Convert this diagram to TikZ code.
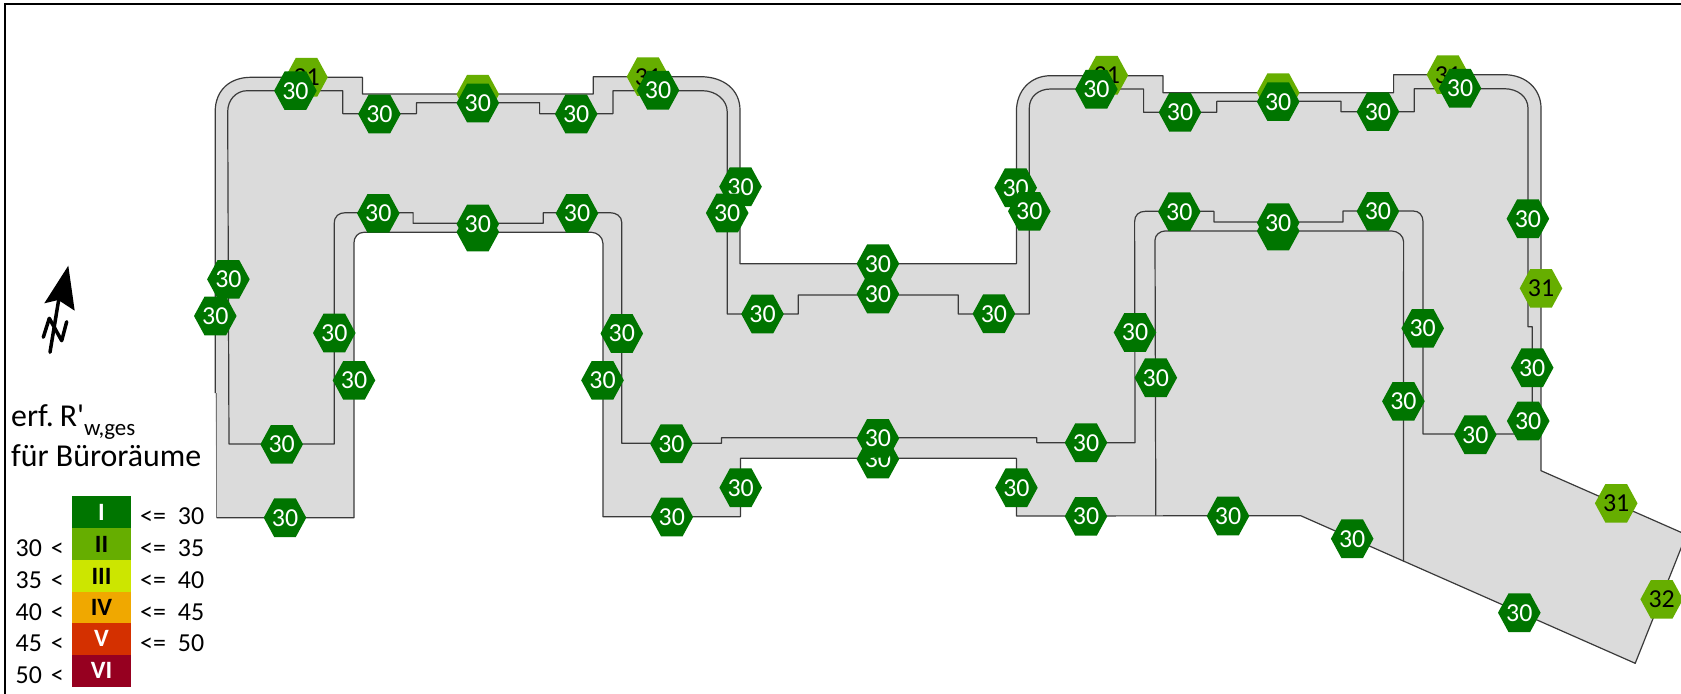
\documentclass[tikz,border=0pt]{standalone}
\usepackage{fontspec}
\setmainfont{Carlito}
\newfontfamily\rawfont{Carlito}
\definecolor{hexdark}{HTML}{007500}
\definecolor{hexlight}{HTML}{66AE00}
\definecolor{floorgray}{HTML}{DBDBDB}
\definecolor{wall}{HTML}{3A3A3A}
\definecolor{lI}{HTML}{007500}
\definecolor{lII}{HTML}{66AE00}
\definecolor{lIII}{HTML}{CCE600}
\definecolor{lIV}{HTML}{F0A800}
\definecolor{lV}{HTML}{D43000}
\definecolor{lVI}{HTML}{960020}
\newcounter{hexno}
\tikzset{
  wallline/.style={draw=wall,line width=1.2bp,line join=round},
  hexlabel/.style={inner sep=0pt,font=\fontsize{26}{26}\selectfont},
  leglabel/.style={inner sep=0pt,font=\fontsize{26}{26}\selectfont},
  legbox/.style={inner sep=0pt,minimum width=59bp,minimum height=32bp,text height=16bp,text depth=0pt,font=\fontsize{25}{25}\selectfont\bfseries},
}
% centre x, centre y, fill, text colour, text
\newcommand{\hexa}[5]{%
  \stepcounter{hexno}%
  \fill[#3] (#1-21.3,#2) -- (#1-10.8,#2-19.3) -- (#1+10.8,#2-19.3) -- (#1+21.3,#2) -- (#1+10.8,#2+19.3) -- (#1-10.8,#2+19.3) -- cycle;
  \node[hexlabel,text=#4] (h\arabic{hexno}) at (#1,#2) {#5};
}
\newcommand{\hd}[2]{\hexa{#1}{#2}{hexdark}{white}{30}}
\newcommand{\hl}[3]{\hexa{#1}{#2}{hexlight}{black}{#3}}
\begin{document}
\begin{tikzpicture}[x=1bp,y=-1bp]
\useasboundingbox (0,0) rectangle (1681,694);
\clip (0,0) rectangle (1681,694);
\fill[white] (0,0) rectangle (1681,694);
% frame
\draw[black,line width=2.3bp] (5,694) -- (5,4);
\draw[black,line width=1.5bp] (4,4) -- (1681,4);
% floor plan outer outline
\fill[floorgray] (216.5,517.7) -- (215.2,393) -- (215.2,111.7)
  .. controls (215.2,90) and (230,77.3) .. (251,77.3)
  -- (362.4,77.3) -- (362.4,94) -- (593.3,94) -- (593.3,76.7) -- (700.5,76.7)
  .. controls (724,76.7) and (740,90) .. (740,110)
  -- (740,263.7) -- (1016.4,263.7) -- (1016.4,111.7)
  .. controls (1016.4,90) and (1031,75.7) .. (1050.7,75.7)
  -- (1163,75.7) -- (1163,92.7) -- (1393.6,92.7) -- (1393.6,74.7) -- (1504,74.7)
  .. controls (1527,74.7) and (1541,90) .. (1541,108)
  -- (1541,470.7) -- (1686.4,534.7) -- (1635.2,663.3) -- (1300.7,515.7)
  -- (1016.4,516) -- (1016.4,458.3) -- (740.4,458.3) -- (740.4,516.7) -- (602.9,516.7)
  -- (602.9,243.3) .. controls (602.9,237) and (597,232.3) .. (591.4,232.3)
  -- (363.9,232.3) .. controls (358,232.3) and (353.9,237) .. (353.9,243.3)
  -- (354,517.7) -- cycle;
\draw[wallline] (215.2,393) -- (215.2,111.7)
  .. controls (215.2,90) and (230,77.3) .. (251,77.3)
  -- (362.4,77.3) -- (362.4,94) -- (593.3,94) -- (593.3,76.7) -- (700.5,76.7)
  .. controls (724,76.7) and (740,90) .. (740,110)
  -- (740,263.7) -- (1016.4,263.7) -- (1016.4,111.7)
  .. controls (1016.4,90) and (1031,75.7) .. (1050.7,75.7)
  -- (1163,75.7) -- (1163,92.7) -- (1393.6,92.7) -- (1393.6,74.7) -- (1504,74.7)
  .. controls (1527,74.7) and (1541,90) .. (1541,108)
  -- (1541,470.7) -- (1686.4,534.7) -- (1635.2,663.3) -- (1300.7,515.7)
  -- (1016.4,516) -- (1016.4,458.3) -- (740.4,458.3) -- (740.4,516.7) -- (602.9,516.7)
  -- (602.9,243.3) .. controls (602.9,237) and (597,232.3) .. (591.4,232.3)
  -- (363.9,232.3) .. controls (358,232.3) and (353.9,237) .. (353.9,243.3)
  -- (354,517.7) -- (216.5,517.7);
\draw[draw=wall!70,line width=0.8bp] (216.5,517.7) -- (216.5,393);
% inner line
\draw[wallline] (229,444) -- (227.7,111.7)
  .. controls (227.7,100) and (236,90.7) .. (247.3,90.7)
  -- (342.8,90.7) -- (342.8,113.7) -- (416.4,113.7) -- (416.4,102.7) -- (539.6,102.7)
  -- (539.6,113.7) -- (612.9,113.7) -- (612.9,90.7) -- (702.4,90.7)
  .. controls (716,90.7) and (727.2,100) .. (727.2,111.7)
  -- (727.2,314) -- (798.2,314) -- (798.2,295) -- (958.2,295) -- (958.2,314)
  -- (1029.3,314) -- (1029.3,108)
  .. controls (1029.3,97) and (1038,89) .. (1050.7,89)
  -- (1143.6,89) -- (1143.6,112.3) -- (1216.8,112.3) -- (1216.8,101.3) -- (1341,101.3)
  -- (1341,111.7) -- (1414.3,111.7) -- (1414.3,88.7) -- (1504,88.7)
  .. controls (1518,88.7) and (1528,97) .. (1528,108.3)
  -- (1527.9,326.7) -- (1532.2,326.7) -- (1532.2,434) -- (1423,434) -- (1423,221.7)
  .. controls (1423,215) and (1419,211) .. (1413.2,211)
  -- (1342.9,211) -- (1342.9,222) -- (1213.9,222) -- (1213.9,211.3) -- (1145.4,211.3)
  .. controls (1139,211.3) and (1134.6,215) .. (1134.6,221.7)
  -- (1135,442.7) -- (1036.8,442.7) -- (1036.8,437.7) -- (721.4,437.7) -- (721.4,443.3)
  -- (621.8,443.3) -- (621.8,222.7)
  .. controls (621.8,216) and (616,212.7) .. (609.9,212.7)
  -- (543.3,212.7) -- (543.3,223.3) -- (413.1,223.3) -- (413.1,212.7) -- (345.4,212.7)
  .. controls (339,212.7) and (334.3,216) .. (334.3,223.3)
  -- (334.3,444) -- cycle;
% second courtyard walls
\draw[wallline] (1155.8,515.7) -- (1155,240) .. controls (1155,235) and (1160,231) .. (1165,231)
  -- (1391.8,231) .. controls (1398,231) and (1403.6,236) .. (1403.6,241.7) -- (1403.4,561.7);
% light hexagons
\hl{306.5}{77.3}{31}
\hl{648}{76.7}{31}
\hexa{477.8}{94.3}{hexlight}{black}{}
\hl{1106.8}{75.3}{31}
\hl{1447.9}{74.7}{31}
\hexa{1278.2}{92.7}{hexlight}{black}{}
\hl{1541}{288.3}{31}
\hl{1616.2}{503.3}{31}
\hl{1661.7}{599.3}{32}
% dark hexagons
\hd{295.4}{90.7}
\hd{379.4}{114}
\hd{477.8}{103}
\hd{576.2}{114}
\hd{658}{90.3}
\hd{740.5}{186.7}
\hd{727.2}{213}
\hd{378.3}{213.3}
\hexa{477.8}{232}{hexdark}{white}{}
\hd{477.8}{224}
\hd{577}{213.3}
\hd{228.4}{279.3}
\hd{215.3}{316}
\hd{334.3}{333}
\hd{354}{380.3}
\hd{281.7}{444.3}
\hd{285}{517.7}
\hd{621.8}{333.5}
\hd{602.5}{380.3}
\hd{762.5}{314}
\hd{877.9}{263.7}
\hd{877.9}{294}
\hd{993.9}{313.7}
\hd{671.4}{443.7}
\hd{671.8}{517}
\hd{740.7}{487.7}
\hd{1016.4}{487.7}
\hd{877.9}{459}
\hd{877.9}{438.3}
\hd{1086}{442.7}
\hd{1086}{516.3}
\hd{1096.4}{89.3}
\hd{1180}{112.3}
\hd{1278.2}{101.7}
\hd{1377.9}{111.7}
\hd{1460}{88.3}
\hd{1015.7}{187.7}
\hd{1029.3}{211.3}
\hd{1179.3}{211.7}
\hexa{1278.2}{231}{hexdark}{white}{}
\hd{1278.2}{222.7}
\hd{1377.9}{211.3}
\hd{1527.9}{218.7}
\hd{1135}{332.5}
\hd{1155.8}{377.7}
\hd{1422.7}{328.3}
\hd{1403.4}{401.3}
\hd{1475.3}{434.7}
\hd{1532.2}{367.7}
\hd{1528.2}{421}
\hd{1228}{516}
\hd{1352.2}{538.7}
\hd{1519.3}{612.7}
% north arrow
\fill[black] (68.3,265.7) -- (44.3,303.3) -- (58.3,300) -- (74.7,310.7) -- cycle;
\draw[black,line width=3.5bp,line cap=round] (59,298) -- (50,352.3);
\draw[black,line width=3.5bp,line cap=round,line join=round] (43.3,337.3) -- (49.3,318.3) -- (61.7,340.7) -- (66.7,321.7);
% legend title
\node[anchor=base west,inner sep=0pt,font=\fontsize{32}{32}\selectfont] (ttl1) at (11,426.7) {erf.\hspace{6bp}R{\rawfont'}\raisebox{-9bp}{\fontsize{23}{23}\selectfont w,ges}};
\node[anchor=base west,inner sep=0pt,font=\fontsize{32}{32}\selectfont] (ttl2) at (11,466) {für Büroräume};
% legend boxes
\node[legbox,fill=lI,text=white] (b1) at (101.5,512) {I};
\node[legbox,fill=lII,text=black] (b2) at (101.5,544) {II};
\node[legbox,fill=lIII,text=black] (b3) at (101.5,576) {III};
\node[legbox,fill=lIV,text=black,minimum height=31bp] (b4) at (101.5,607.3) {IV};
\node[legbox,fill=lV,text=white,minimum height=32.3bp] (b5) at (101.5,638.8) {V};
\node[legbox,fill=lVI,text=white] (b6) at (101.5,670.8) {VI};
% legend labels
\foreach \n/\yy/\txt in {a/556/30,b/588/35,c/620/40,d/651.5/45,e/683.5/50}
  \node[leglabel,anchor=base east] (l\n) at (64,\yy) {\txt\hspace{9bp}<};
\foreach \n/\yy/\txt in {a/524/30,b/556/35,c/588/40,d/620/45,e/651.5/50}
  \node[leglabel,anchor=base west] (r\n) at (140,\yy) {<=\hspace{12bp}\txt};
\end{tikzpicture}
\end{document}
